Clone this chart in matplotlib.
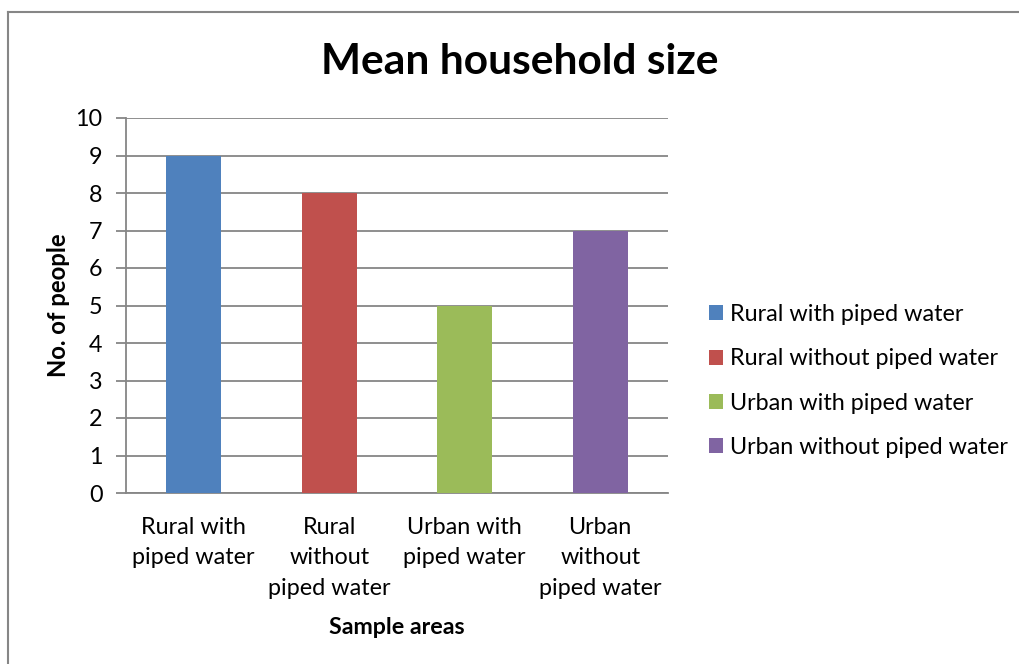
import matplotlib.pyplot as plt
from matplotlib.lines import Line2D

plt.rcParams['font.family'] = ['Lato', 'DejaVu Sans']

areas = ["Rural with piped water", "Rural without piped water",
         "Urban with piped water", "Urban without piped water"]
tick_labels = ["Rural with\npiped water", "Rural\nwithout\npiped water",
               "Urban with\npiped water", "Urban\nwithout\npiped water"]
household_size = [9, 8, 5, 7]
colors = ["#4F81BD", "#C0504D", "#9BBB59", "#8064A2"]

fig = plt.figure(figsize=(10.19, 6.64), dpi=100)
ax = fig.add_axes([126 / 1019, 1 - 493 / 664, (668 - 126) / 1019, (493 - 118) / 664])

x = list(range(len(areas)))
for i in x:
    ax.bar(i, household_size[i], width=0.405, color=colors[i], label=areas[i], zorder=3)

ax.set_xlim(-0.5, 3.5)
ax.set_ylim(0, 10)
ax.set_yticks(range(0, 11))
ax.set_xticks(x)
ax.set_xticklabels(tick_labels, fontsize=16.8, linespacing=1.56)
ax.tick_params(axis='x', length=0, pad=17)
ax.tick_params(axis='y', length=7, width=1.3, color="#868686", labelsize=16.8, pad=10)
ax.grid(axis='y', color="#868686", linewidth=1.3, zorder=0)

for s in ["top", "right"]:
    ax.spines[s].set_visible(False)
ax.spines["left"].set_color("#868686")
ax.spines["left"].set_linewidth(1.3)
ax.spines["bottom"].set_color("#868686")
ax.spines["bottom"].set_linewidth(1.3)

ax.set_xlabel("Sample areas", fontsize=16.7, fontweight="bold", labelpad=13)
ax.set_ylabel("No. of people", fontsize=17.2, fontweight="bold", labelpad=4)
fig.text(520 / 1019, 1 - 62 / 664, "Mean household size", fontsize=30.6,
         fontweight="bold", ha="center", va="center")

ax.legend(loc="center left", bbox_to_anchor=(709 / 1019, 1 - 381 / 664),
          bbox_transform=fig.transFigure, frameon=False, fontsize=16.8,
          handlelength=0.6, handleheight=0.6, handletextpad=0.3,
          labelspacing=1.0, borderaxespad=0, borderpad=0)

# chart area frame
fig.add_artist(Line2D([8 / 1019, 8 / 1019], [0, 1 - 12 / 664], color="#868686", lw=1.5))
fig.add_artist(Line2D([8 / 1019, 1], [1 - 12 / 664, 1 - 12 / 664], color="#868686", lw=1.5))

fig.savefig("out.png", dpi=100)
